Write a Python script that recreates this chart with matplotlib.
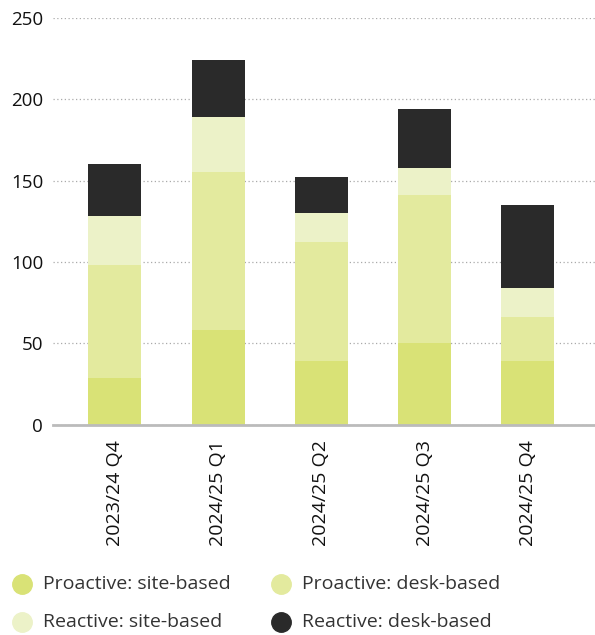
import numpy as np;

from matplotlib import pyplot as plt;
from matplotlib.lines import Line2D;

# 季度
quarters = [ "2023/24 Q4", "2024/25 Q1", "2024/25 Q2", "2024/25 Q3", "2024/25 Q4" ];

# 各类数量
proactive_site = [ 29, 58, 39, 50, 39 ];
proactive_desk = [ 69, 97, 73, 91, 27 ];
reactive_site = [ 30, 34, 18, 17, 18 ];
reactive_desk = [ 32, 35, 22, 36, 51 ];

series = [ proactive_site, proactive_desk, reactive_site, reactive_desk ];
names = [ "Proactive: site-based", "Proactive: desk-based", "Reactive: site-based", "Reactive: desk-based" ];
colors = [ "#d9e276", "#e3ea9e", "#ecf2c8", "#2a2a2a" ];

plt.rcParams[ "font.family" ] = [ "Open Sans", "DejaVu Sans" ];

W, H = 595, 635;
fig = plt.figure( figsize = ( W / 100, H / 100 ), dpi = 100 );
ax = fig.add_axes( [ 0.089, 0.331, 0.911, 0.641 ] );

x = np.arange( len( quarters ) );
bottom = np.zeros( len( quarters ) );
for values, color in zip( series, colors ):
	ax.bar( x, values, width = 0.515, bottom = bottom, color = color, zorder = 3 );
	bottom = bottom + np.array( values );

ax.set_xlim( -0.6, 4.65 );
ax.set_ylim( 0, 250 );
ax.set_yticks( np.arange( 0, 251, 50 ) );
ax.set_xticks( x );
ax.set_xticklabels( quarters, rotation = 90, fontsize = 14, color = "#111111" );
ax.tick_params( axis = "y", labelsize = 13.5, labelcolor = "#111111", length = 0, pad = 7 );
ax.tick_params( axis = "x", length = 0, pad = 11 );

# 网格线
ax.yaxis.grid( True, linestyle = ( 0, ( 1, 2 ) ), color = "#aaaaaa", linewidth = 0.9, zorder = 0 );
for side in [ "top", "right", "left" ]:
	ax.spines[ side ].set_visible( False );
ax.spines[ "bottom" ].set_color( "#bbbbbb" );
ax.spines[ "bottom" ].set_linewidth( 2 );
ax.spines[ "bottom" ].set_zorder( 4 );

# 图例（两行两列）
spots = [ ( 22, 584 ), ( 281, 584 ), ( 22, 622 ), ( 281, 622 ) ];
for ( px, py ), name, color in zip( spots, names, colors ):
	fig.add_artist( Line2D( [ px / W ], [ 1 - py / H ], marker = "o", markersize = 14,
		color = color, linestyle = "", transform = fig.transFigure ) );
	fig.text( ( px + 21 ) / W, 1 - py / H, name, fontsize = 14, color = "#333333", va = "center", ha = "left" );

plt.savefig( "out.png" );
